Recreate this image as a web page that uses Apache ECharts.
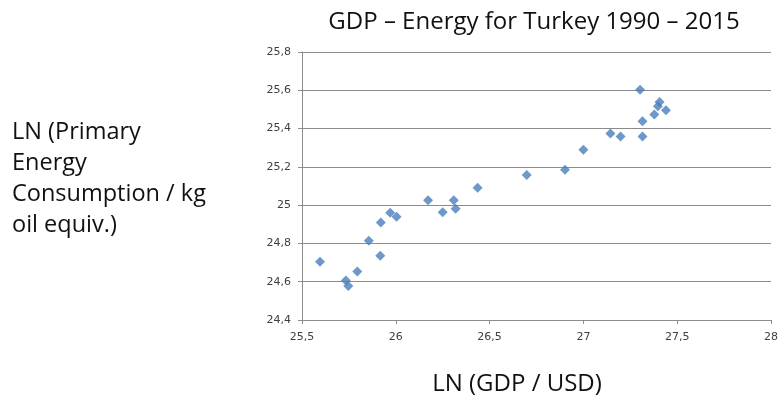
<!DOCTYPE html>
<html>
<head>
<meta charset="utf-8">
<script src="https://cdn.jsdelivr.net/npm/echarts@6/dist/echarts.min.js"></script>
<style>
html,body{margin:0;padding:0;background:#fff;}
#c{width:781px;height:401px;}
</style>
</head>
<body>
<div id="c"></div>
<script>
const titleText = 'GDP – Energy for Turkey 1990 – 2015';
const xName = 'LN (GDP / USD)';
const yName = 'LN (Primary\nEnergy\nConsumption / kg\noil equiv.)';
const lnGdp = [25.596, 25.734, 25.747, 25.795, 25.856, 25.917, 25.920, 25.970, 26.004, 26.172, 26.250, 26.309, 26.319, 26.436, 26.698, 26.902, 27.000, 27.144, 27.198, 27.302, 27.315, 27.315, 27.378, 27.397, 27.406, 27.440];
const lnEnergy = [24.704, 24.606, 24.577, 24.653, 24.814, 24.735, 24.909, 24.960, 24.940, 25.025, 24.963, 25.025, 24.981, 25.091, 25.158, 25.185, 25.290, 25.374, 25.359, 25.603, 25.438, 25.359, 25.474, 25.517, 25.539, 25.496];
const xMin = 25.5, xMax = 28, xStep = 0.5;
const yMin = 24.4, yMax = 25.8, yStep = 0.2;

const pts = lnGdp.map((v, i) => [v, lnEnergy[i]]);
const fmt = v => String(Math.round(v * 10) / 10).replace('.', ',');
const chart = echarts.init(document.getElementById('c'), null, {renderer: 'canvas'});
chart.setOption({
  backgroundColor: '#ffffff',
  animation: false,
  title: [{
    text: titleText,
    left: 529, top: 5,
    textAlign: 'center',
    textStyle: {fontFamily: 'Open Sans', fontSize: 24, fontWeight: 'normal', color: '#111'}
  }, {
    text: yName,
    left: 7, top: 112,
    textStyle: {fontFamily: 'Open Sans', fontSize: 23.5, fontWeight: 'normal', color: '#111', lineHeight: 31}
  }],
  grid: {left: 302, right: 8, top: 52, bottom: 76, containLabel: false},
  xAxis: {
    type: 'value', min: xMin, max: xMax, interval: xStep,
    name: xName, nameLocation: 'middle', nameGap: 52,
    nameTextStyle: {fontFamily: 'Open Sans', fontSize: 24, color: '#111', padding: [0, 39, 0, 0]},
    axisLine: {show: true, lineStyle: {color: '#8c8c8c', width: 1}},
    axisTick: {show: true, length: 4, inside: false, lineStyle: {color: '#8c8c8c'}},
    splitLine: {show: false},
    axisLabel: {formatter: fmt, fontFamily: 'DejaVu Sans', fontSize: 11, color: '#404040', margin: 12}
  },
  yAxis: {
    type: 'value', min: yMin, max: yMax, interval: yStep,
    axisLine: {show: true, lineStyle: {color: '#8c8c8c', width: 1}},
    axisTick: {show: true, length: 4, lineStyle: {color: '#8c8c8c'}},
    splitLine: {show: true, lineStyle: {color: '#8c8c8c', width: 1}},
    axisLabel: {formatter: fmt, fontFamily: 'DejaVu Sans', fontSize: 11, color: '#404040', margin: 11}
  },
  series: [{
    type: 'scatter',
    data: pts,
    symbol: 'diamond',
    symbolSize: 10,
    itemStyle: {color: '#4a7ebb'}
  }]
});
</script>
</body>
</html>
